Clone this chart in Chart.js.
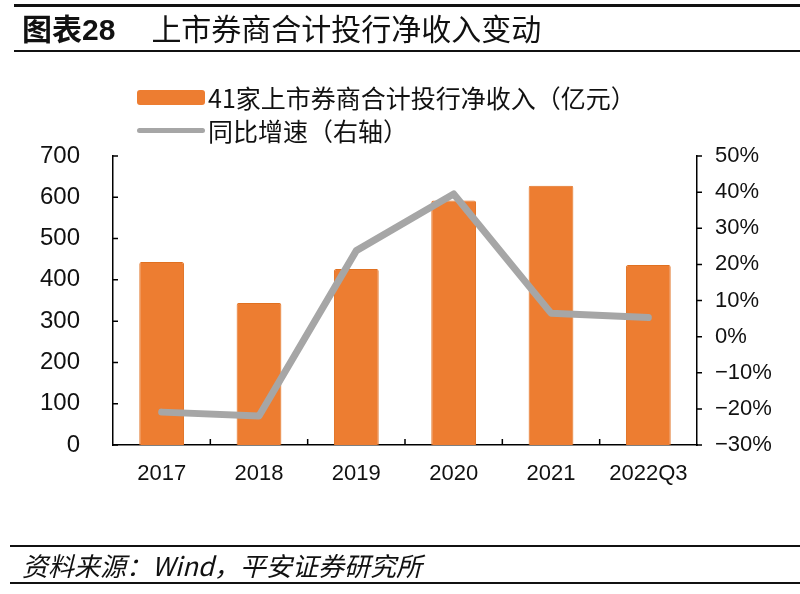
<!DOCTYPE html>
<html>
<head>
<meta charset="utf-8">
<script src="https://cdn.jsdelivr.net/npm/chart.js@4"></script>
<style>
  body { margin: 0; background: #fff; }
  #wrap { position: relative; width: 800px; height: 594px; overflow: hidden; font-family: "Liberation Sans", "Noto Sans CJK SC", sans-serif; }
  #chart { position: absolute; left: 0; top: 0; }
  .rule { position: absolute; background: #111; }
  #title { position: absolute; left: 22px; top: 11px; font-size: 30px; line-height: 38px; color: #111; font-family: "Liberation Sans", "Noto Sans CJK SC", sans-serif; white-space: nowrap; }
  #title b { font-weight: 700; margin-right: 36px; }
  .leg { position: absolute; left: 137px; font-size: 25px; line-height: 32px; color: #111; font-family: "Noto Sans CJK SC", sans-serif; white-space: nowrap; }
  .leg span.mark { position: absolute; left: 0; border-radius: 3px; }
  .leg span.txt { position: absolute; left: 71px; top: 0; }
  #source { position: absolute; left: 22px; top: 548px; font-size: 26px; line-height: 34px; font-style: italic; color: #111; font-family: "Noto Sans CJK SC", sans-serif; white-space: nowrap; }
</style>
</head>
<body>
<div id="wrap">
  <canvas id="chart" width="800" height="594"></canvas>
  <div class="rule" style="left:14px; top:4px; width:786px; height:3px;"></div>
  <div id="title"><b>图表28</b>上市券商合计投行净收入变动</div>
  <div class="rule" style="left:14px; top:50px; width:786px; height:2px;"></div>
  <div id="legend"></div>
  <div class="rule" style="left:10px; top:545px; width:790px; height:2px;"></div>
  <div id="source">资料来源：Wind，平安证券研究所</div>
  <div class="rule" style="left:10px; top:582px; width:790px; height:2px;"></div>
</div>
<script>
const categories = ['2017', '2018', '2019', '2020', '2021', '2022Q3'];
const revenue = [443, 344, 426, 592, 628, 436];
const growth = [-20.9, -22.0, 23.8, 39.5, 6.5, 5.3];
const leftTicks = [0, 100, 200, 300, 400, 500, 600, 700];
const rightTicks = [-30, -20, -10, 0, 10, 20, 30, 40, 50];

const barLabel = '41家上市券商合计投行净收入（亿元）';
const lineLabel = '同比增速（右轴）';
const orange = '#ED7D31';
const grey = '#A6A6A6';

// short tick marks: left axis and category boundaries point inward, right axis outward
const tickMarks = {
  id: 'tickMarks',
  afterDraw(chart) {
    const { ctx, chartArea, scales } = chart;
    ctx.save();
    ctx.strokeStyle = '#000';
    ctx.lineWidth = 1.5;
    ctx.beginPath();
    leftTicks.forEach((v) => {
      const y = scales.y.getPixelForValue(v);
      ctx.moveTo(chartArea.left, y);
      ctx.lineTo(chartArea.left + 5, y);
    });
    rightTicks.forEach((v) => {
      const y = scales.y1.getPixelForValue(v);
      ctx.moveTo(chartArea.right, y);
      ctx.lineTo(chartArea.right + 5, y);
    });
    for (let i = 1; i < categories.length; i++) {
      const x = (scales.x.getPixelForValue(i - 1) + scales.x.getPixelForValue(i)) / 2;
      ctx.moveTo(x, chartArea.bottom);
      ctx.lineTo(x, chartArea.bottom - 6);
    }
    ctx.stroke();
    ctx.restore();
  },
};

const tickFont = { family: '"Liberation Sans", Arial, sans-serif', size: 22 };
const leftFont = { family: '"Liberation Sans", Arial, sans-serif', size: 24 };

new Chart(document.getElementById('chart'), {
  data: {
    labels: categories,
    datasets: [
      {
        type: 'line',
        label: lineLabel,
        data: growth,
        yAxisID: 'y1',
        borderColor: grey,
        borderWidth: 7,
        borderCapStyle: 'round',
        borderJoinStyle: 'round',
        pointRadius: 0,
        tension: 0,
        order: 0,
      },
      {
        type: 'bar',
        label: barLabel,
        data: revenue,
        yAxisID: 'y',
        backgroundColor: orange,
        borderColor: '#E07020',
        borderWidth: 1,
        borderRadius: 2,
        borderSkipped: 'bottom',
        categoryPercentage: 1,
        barPercentage: 0.46,
        order: 1,
      },
    ],
  },
  options: {
    responsive: false,
    animation: false,
    layout: { padding: { top: 156, left: 0, right: 0, bottom: 0 } },
    plugins: { legend: { display: false }, tooltip: { enabled: false } },
    scales: {
      x: {
        grid: { display: false },
        border: { color: '#000', width: 1.5 },
        ticks: { color: '#111', font: tickFont, padding: 8, maxRotation: 0 },
        afterFit(scale) { scale.height = 149; },
      },
      y: {
        position: 'left',
        min: 0,
        max: 700,
        grid: { display: false },
        border: { color: '#000', width: 1.5 },
        ticks: { stepSize: 100, color: '#111', font: leftFont, padding: 25 },
        afterFit(scale) { scale.width = 113; },
      },
      y1: {
        position: 'right',
        min: -30,
        max: 50,
        grid: { display: false },
        border: { color: '#000', width: 1.5 },
        ticks: {
          stepSize: 10,
          color: '#111',
          font: tickFont,
          padding: 10,
          callback: (v) => (v < 0 ? '\u2212' + Math.abs(v) : v) + '%',
        },
        afterFit(scale) { scale.width = 103; },
      },
    },
  },
  plugins: [tickMarks],
});

// legend built from the two series
document.getElementById('legend').innerHTML =
  '<div class="leg" style="top:81px"><span class="mark" style="top:9px;width:68px;height:15px;background:' + orange + '"></span><span class="txt">' + barLabel + '</span></div>' +
  '<div class="leg" style="top:114px"><span class="mark" style="top:14px;width:68px;height:5px;background:' + grey + '"></span><span class="txt">' + lineLabel + '</span></div>';
</script>
</body>
</html>
